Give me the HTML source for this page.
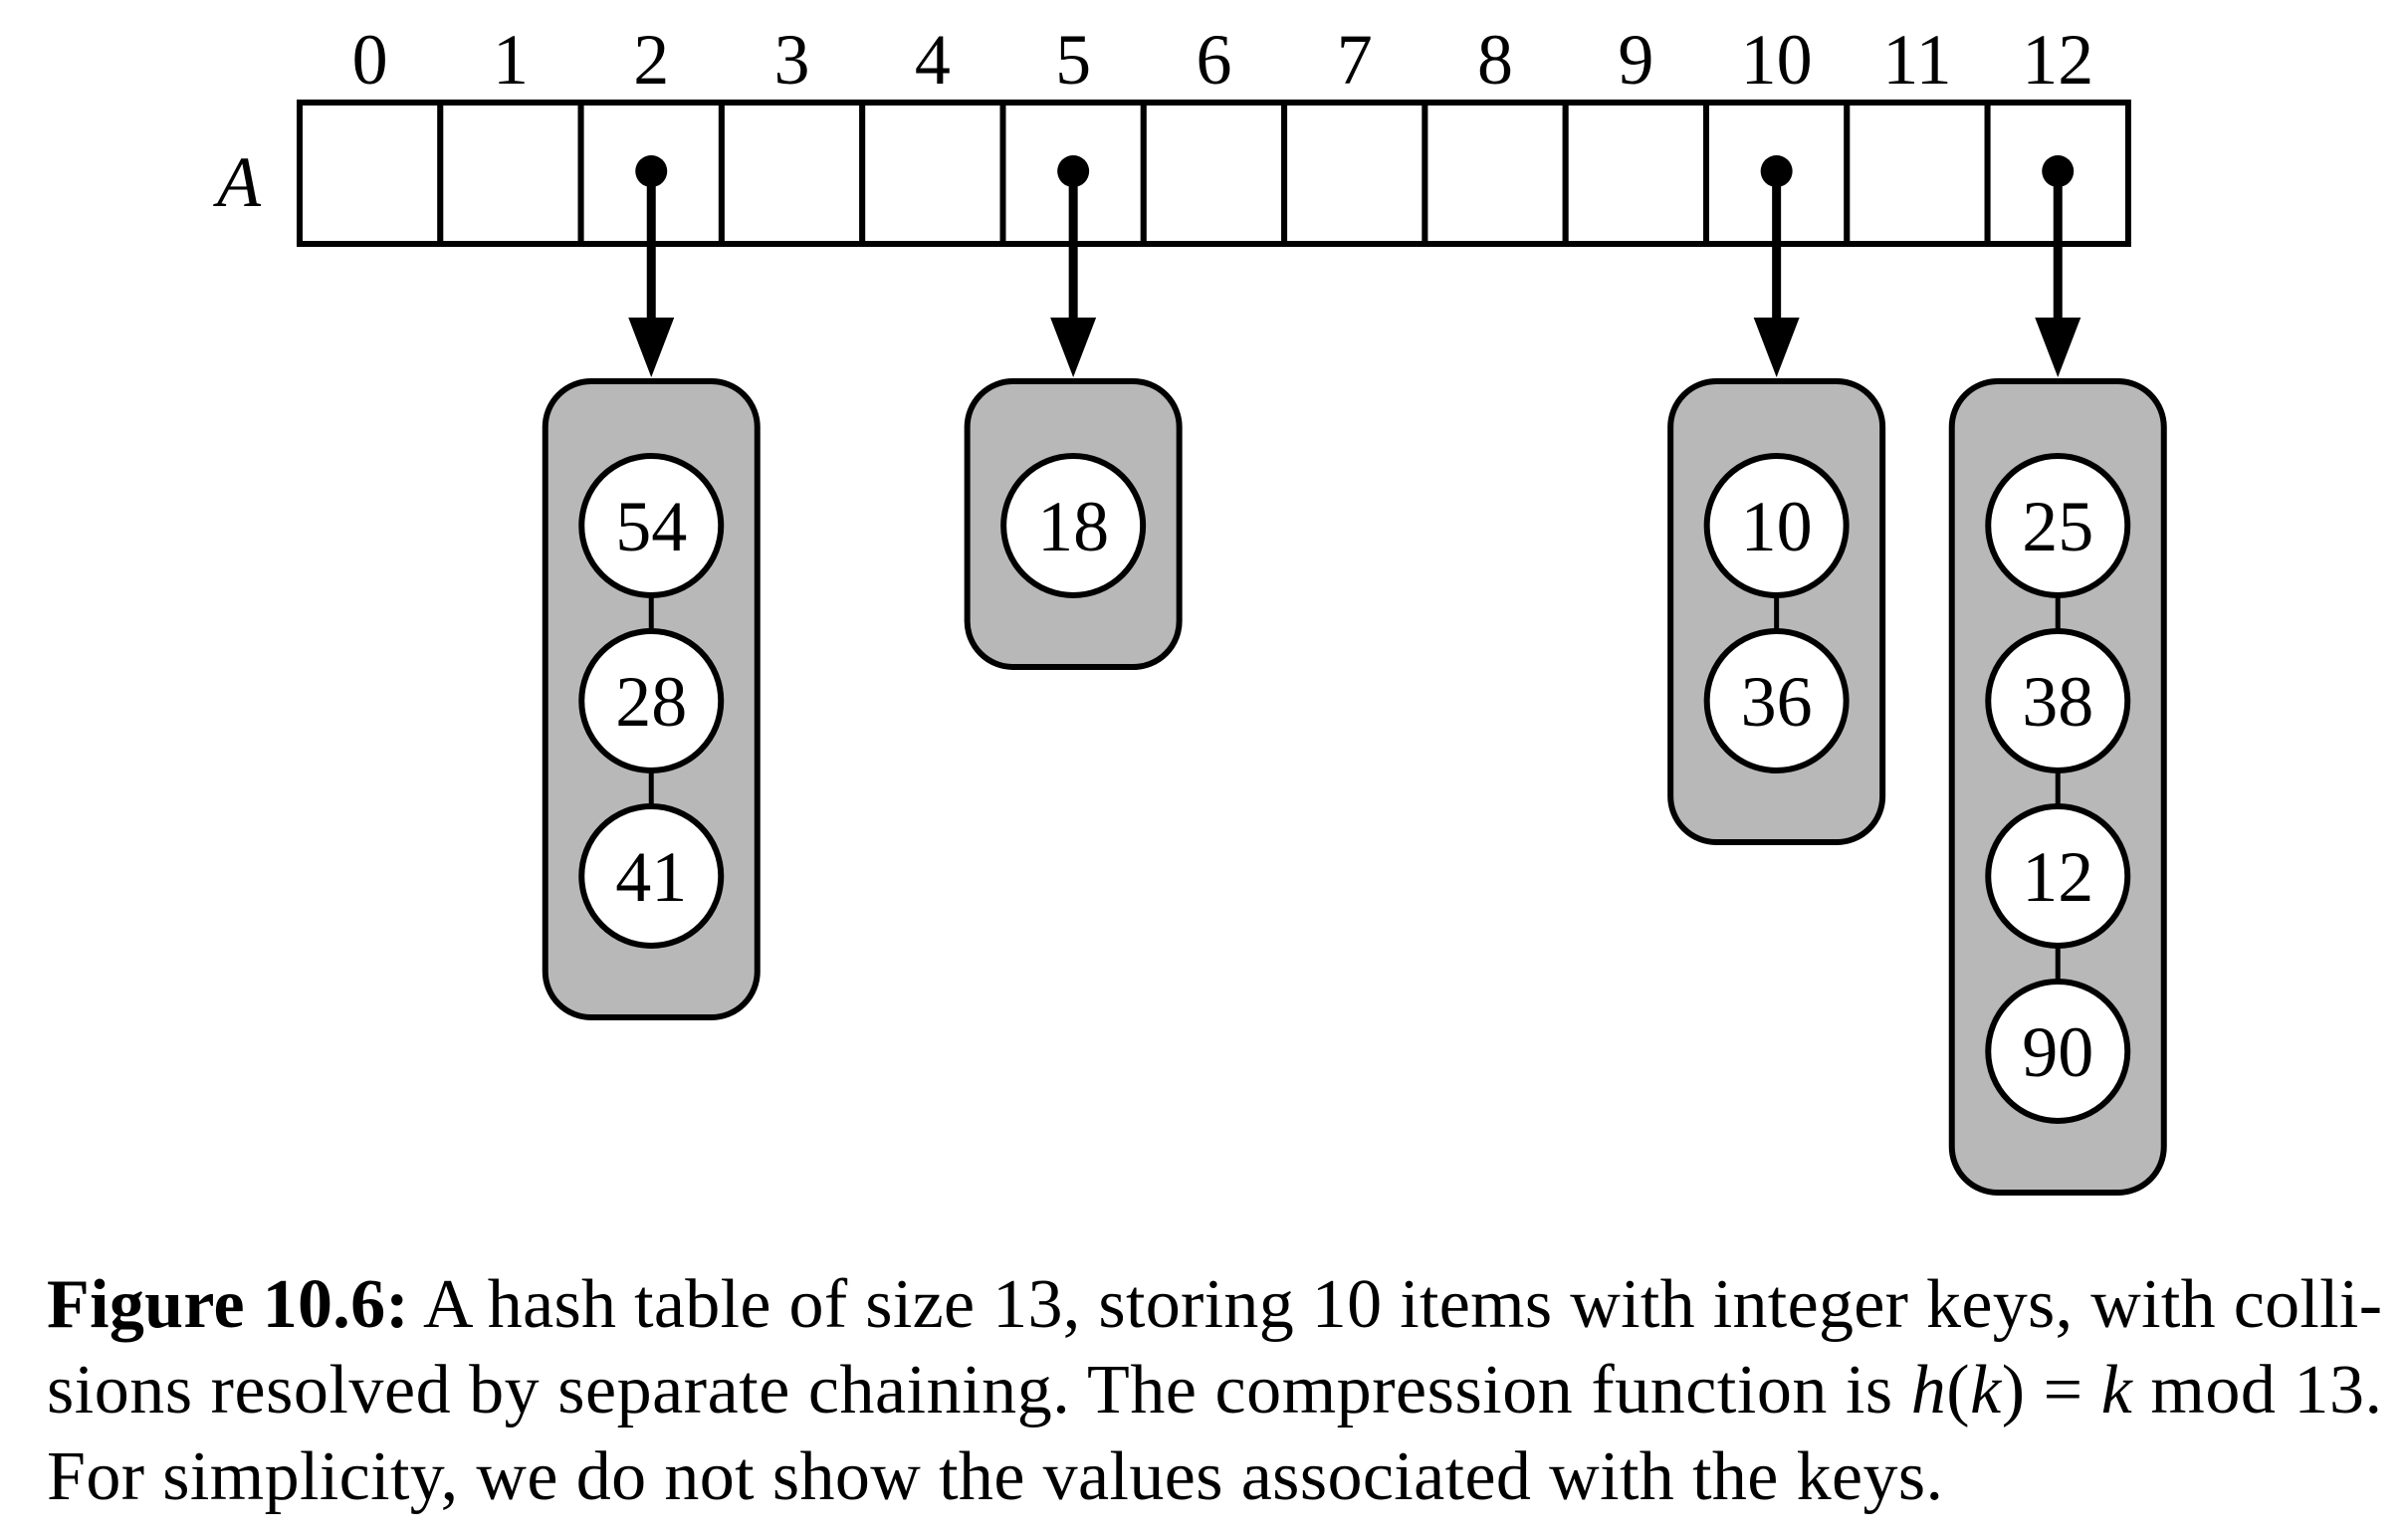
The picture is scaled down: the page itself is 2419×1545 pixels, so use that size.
<!DOCTYPE html>
<html><head><meta charset="utf-8">
<style>
html,body{margin:0;padding:0;background:#fff;}
svg{display:block;}
text{font-family:"Liberation Serif",serif;fill:#000;}
</style></head>
<body>
<svg id="fig" width="2419" height="1545" viewBox="0 0 2419 1545" xmlns="http://www.w3.org/2000/svg">
  <text x="240" y="207" font-size="72" font-style="italic" text-anchor="middle">A</text>
  <g id="array"></g>
  <g id="chains"></g>
  <g font-size="70">
    <text x="47" y="1333" textLength="2346" lengthAdjust="spacing"><tspan font-weight="bold">Figure 10.6:</tspan> A hash table of size 13, storing 10 items with integer keys, with colli-</text>
    <text x="47" y="1419" textLength="2346" lengthAdjust="spacing">sions resolved by separate chaining. The compression function is <tspan font-style="italic">h</tspan>(<tspan font-style="italic">k</tspan>) = <tspan font-style="italic">k</tspan> mod 13.</text>
    <text x="47" y="1506" textLength="1905" lengthAdjust="spacing">For simplicity, we do not show the values associated with the keys.</text>
  </g>
</svg>
<script>
const slotIndices = [0,1,2,3,4,5,6,7,8,9,10,11,12];
const bucketSlots = [2, 5, 10, 12];
const bucketKeys = [[54,28,41],[18],[10,36],[25,38,12,90]];

const NS = "http://www.w3.org/2000/svg";
const arrX0 = 301, cellW = 141.3, arrY0 = 103, arrY1 = 245;
const xOf = i => arrX0 + cellW * (i + 0.5);
const boxTop = 383, firstNodeDy = 145, nodeGap = 176, nodeR = 72, boxW = 213;
function mk(tag, attrs, parent){
  const el = document.createElementNS(NS, tag);
  for (const k in attrs) el.setAttribute(k, attrs[k]);
  parent.appendChild(el);
  return el;
}
const arr = document.getElementById('array');
const chains = document.getElementById('chains');

slotIndices.forEach(i => {
  const r = mk('rect', {x: arrX0 + cellW*i, y: arrY0, width: cellW, height: arrY1-arrY0, fill:'#fff', stroke:'#000', 'stroke-width':6}, arr);
  
  
  const t = mk('text', {x: xOf(i), y: 84, 'font-size': 72, 'text-anchor':'middle'}, arr);
  t.textContent = String(i);
  
  
});

bucketSlots.forEach((slot, b) => {
  const cx = xOf(slot);
  const keys = bucketKeys[b];
  const dot = mk('ellipse', {cx: cx, cy: 172, rx: 16, ry: 16, fill:'#000'}, chains);
  
  
  const shaft = mk('line', {x1: cx, y1: 172, x2: cx, y2: 325, stroke:'#000', 'stroke-width': 9}, chains);
  
  
  const head = mk('polygon', {points: `${cx-23},319 ${cx+23},319 ${cx},379`, fill:'#000'}, chains);
  
  
  const lastY = boxTop + firstNodeDy + nodeGap*(keys.length-1);
  const boxH = lastY + 142 - boxTop;
  const box = mk('rect', {x: cx - boxW/2, y: boxTop, width: boxW, height: boxH, rx: 46, ry: 46, fill:'#b8b8b8', stroke:'#000', 'stroke-width':6}, chains);
  
  
  keys.forEach((k, j) => {
    const cy = boxTop + firstNodeDy + nodeGap*j;
    if (j > 0) {
      const ln = mk('line', {x1: cx, y1: cy - nodeGap + nodeR, x2: cx, y2: cy - nodeR, stroke:'#000', 'stroke-width':5}, chains);
      
      
    }
    const c = mk('circle', {cx: cx, cy: cy, r: nodeR - 2, fill:'#fff', stroke:'#000', 'stroke-width':6}, chains);
    
    
    const t = mk('text', {x: cx, y: cy + 25, 'font-size': 72, 'text-anchor':'middle'}, chains);
    t.textContent = String(k);
    
    
  });
});
</script>
</body></html>
